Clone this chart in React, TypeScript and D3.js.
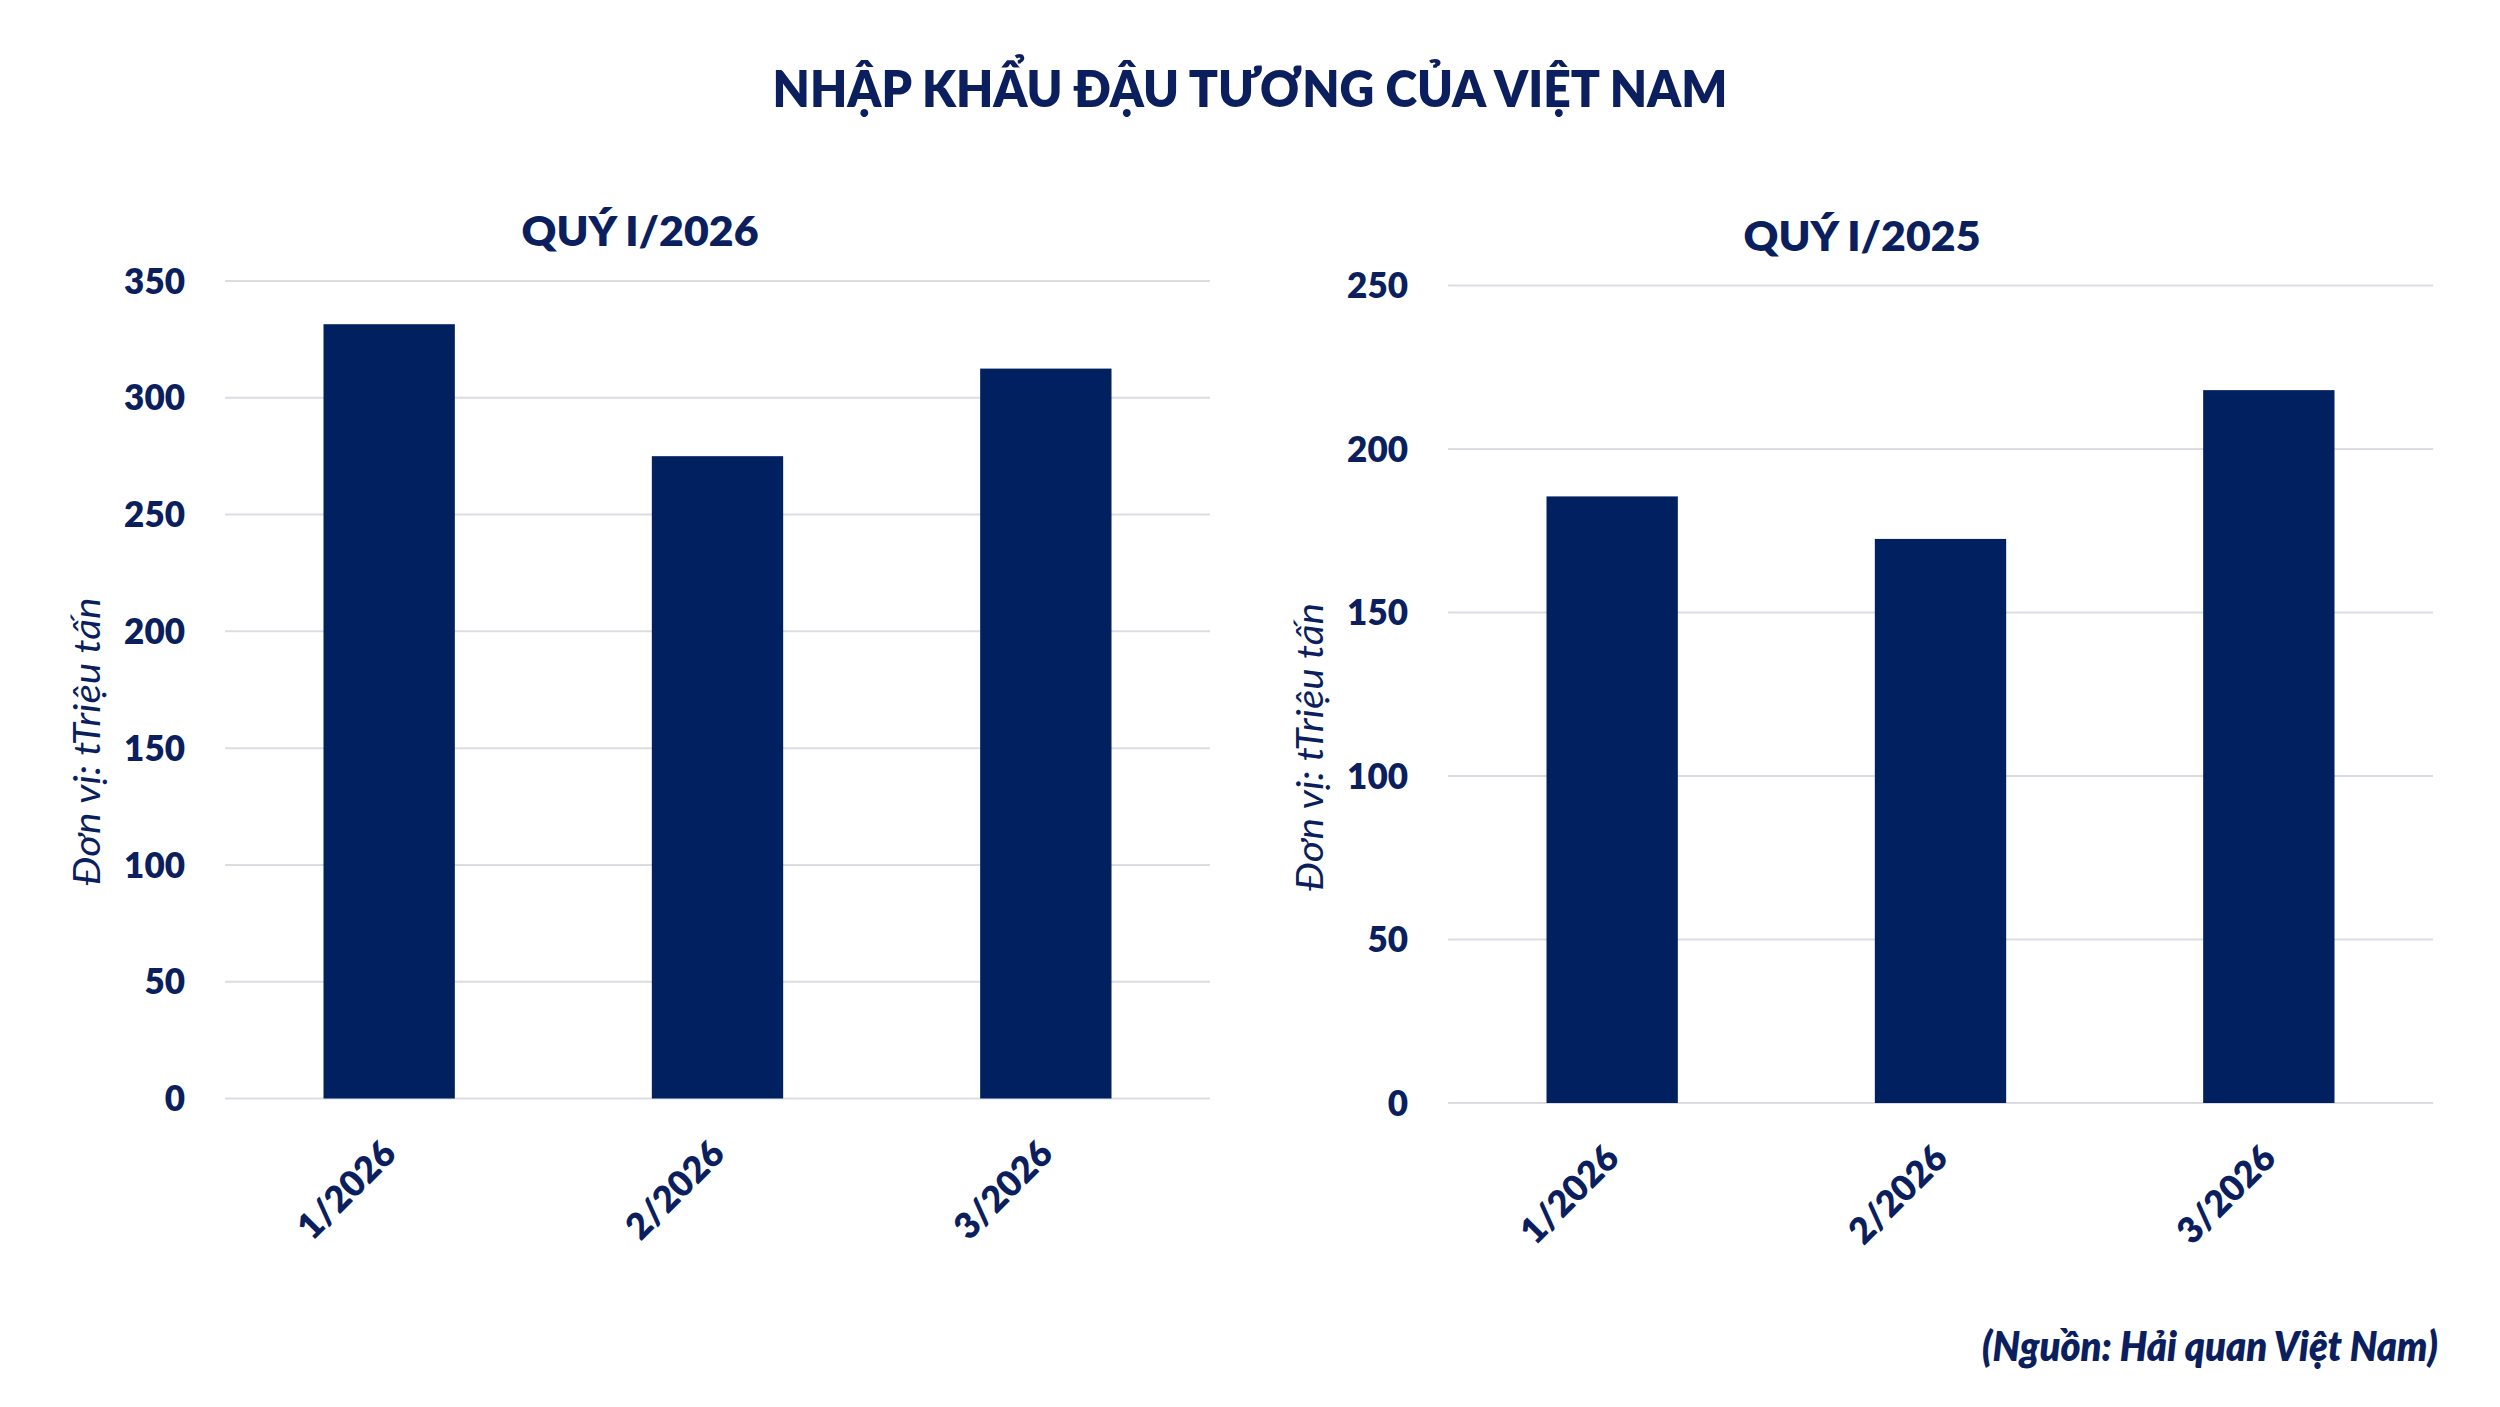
import React, { useEffect, useRef } from 'react';
import * as d3 from 'd3';

// chart data
const months = ['1/2026', '2/2026', '3/2026'];
const importsQ1_2026 = [331.5, 275, 312.5];
const importsQ1_2025 = [185.5, 172.5, 218];
const ticksQ1_2026 = [0, 50, 100, 150, 200, 250, 300, 350];
const ticksQ1_2025 = [0, 50, 100, 150, 200, 250];

const mainTitle = 'NHẬP KHẨU ĐẬU TƯƠNG CỦA VIỆT NAM';
const unitLabel = 'Đơn vị: tTriệu tấn';
const sourceLabel = '(Nguồn: Hải quan Việt Nam)';

const NAVY = '#002060';
const TEXT = '#0b1f5e';
const GRID = '#dcdde3';
const FONT = 'Lato, "Open Sans", sans-serif';

interface PanelSpec {
  title: string;
  values: number[];
  ticks: number[];
  x0: number;
  x1: number;
  yZero: number;
  yTop: number;
  titleX: number;
  titleY: number;
  unitX: number;
  unitY: number;
}

const panels: PanelSpec[] = [
  {
    title: 'QUÝ I/2026', values: importsQ1_2026, ticks: ticksQ1_2026,
    x0: 225, x1: 1210, yZero: 1098.5, yTop: 281,
    titleX: 640, titleY: 245.5, unitX: 100, unitY: 741.5,
  },
  {
    title: 'QUÝ I/2025', values: importsQ1_2025, ticks: ticksQ1_2025,
    x0: 1448, x1: 2433, yZero: 1103, yTop: 285.5,
    titleX: 1862, titleY: 251, unitX: 1323, unitY: 747,
  },
];

const App: React.FC = () => {
  const svgRef = useRef<SVGSVGElement>(null);

  useEffect(() => {
    if (!svgRef.current) return;
    const svg = d3.select(svgRef.current);
    svg.selectAll('*').remove();

    svg.append('rect').attr('width', 2500).attr('height', 1407).attr('fill', '#fff');

    // main title
    svg.append('text')
      .attr('x', 1250)
      .attr('y', 107)
      .attr('text-anchor', 'middle')
      .attr('textLength', 955)
      .attr('lengthAdjust', 'spacingAndGlyphs')
      .style('font-family', FONT)
      .style('font-weight', 800)
      .style('font-size', '51px')
      .style('fill', TEXT)
      .text(mainTitle);

    panels.forEach(p => {
      const g = svg.append('g');

      const x = d3.scaleBand<string>()
        .domain(months)
        .range([p.x0, p.x1])
        .paddingInner(0.6)
        .paddingOuter(0.3);

      const maxTick = p.ticks[p.ticks.length - 1];
      const y = d3.scaleLinear()
        .domain([0, maxTick])
        .range([p.yZero, p.yTop]);

      // gridlines
      g.selectAll('.grid')
        .data(p.ticks)
        .enter()
        .append('line')
        .attr('x1', p.x0)
        .attr('x2', p.x1)
        .attr('y1', d => y(d))
        .attr('y2', d => y(d))
        .attr('stroke', GRID)
        .attr('stroke-width', 2);

      // y tick labels
      g.selectAll('.ytick')
        .data(p.ticks)
        .enter()
        .append('text')
        .attr('x', p.x0 - 40)
        .attr('y', d => y(d))
        .attr('dy', '0.36em')
        .attr('text-anchor', 'end')
        .style('font-family', FONT)
        .style('font-weight', 800)
        .style('font-size', '35px')
        .style('fill', TEXT)
        .text(d => d3.format('d')(d));

      // bars
      g.selectAll('.bar')
        .data(p.values)
        .enter()
        .append('rect')
        .attr('x', (_, i) => x(months[i]) as number)
        .attr('width', x.bandwidth())
        .attr('y', d => y(d))
        .attr('height', d => y(0) - y(d))
        .attr('fill', NAVY);

      // x tick labels, rotated
      g.selectAll('.xtick')
        .data(months)
        .enter()
        .append('text')
        .attr('transform', d => `translate(${(x(d) as number) + x.bandwidth() / 2},${p.yZero + 48}) rotate(-45)`)
        .attr('dy', '0.36em')
        .attr('text-anchor', 'end')
        .style('font-family', FONT)
        .style('font-weight', 800)
        .style('font-size', '36px')
        .style('fill', TEXT)
        .text(d => d);

      // panel title
      g.append('text')
        .attr('x', p.titleX)
        .attr('y', p.titleY)
        .attr('text-anchor', 'middle')
        .attr('textLength', 237)
        .attr('lengthAdjust', 'spacingAndGlyphs')
        .style('font-family', FONT)
        .style('font-weight', 800)
        .style('font-size', '41px')
        .style('fill', TEXT)
        .text(p.title);

      // unit label
      g.append('text')
        .attr('transform', `translate(${p.unitX},${p.unitY}) rotate(-90)`)
        .attr('text-anchor', 'middle')
        .attr('textLength', 288)
        .attr('lengthAdjust', 'spacingAndGlyphs')
        .style('font-family', FONT)
        .style('font-style', 'italic')
        .style('font-weight', 400)
        .style('font-size', '36px')
        .style('fill', TEXT)
        .text(unitLabel);
    });

    // source note
    svg.append('text')
      .attr('x', 2438)
      .attr('y', 1361)
      .attr('text-anchor', 'end')
      .attr('textLength', 456)
      .attr('lengthAdjust', 'spacingAndGlyphs')
      .style('font-family', FONT)
      .style('font-style', 'italic')
      .style('font-weight', 800)
      .style('font-size', '42px')
      .style('fill', TEXT)
      .text(sourceLabel);
  }, []);

  return (
    <svg
      ref={svgRef}
      width={2500}
      height={1407}
      style={{ position: 'absolute', left: 0, top: 0, display: 'block' }}
    />
  );
};

export default App;
